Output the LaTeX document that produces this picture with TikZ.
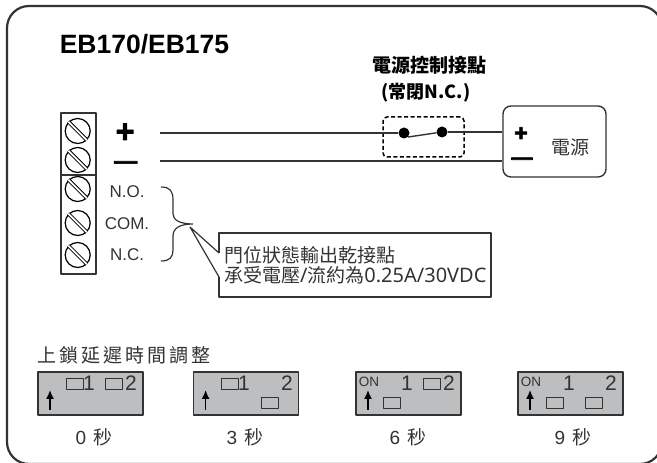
\documentclass[tikz,border=0pt]{standalone}
\usepackage{fontspec}
\usetikzlibrary{arrows.meta}
\setmainfont{Noto Sans CJK TC}
\newfontfamily\arialfont{Liberation Sans}
\newfontfamily\notofont{Noto Sans}
\newfontfamily\symbolfont[UprightFont=* Bold,FakeBold=3]{Liberation Sans}
\newfontfamily\spacedfont[LetterSpace=16]{Noto Sans CJK TC}
\definecolor{dipgray}{rgb}{0.737,0.745,0.753}
\definecolor{inkgray}{rgb}{0.2,0.2,0.2}
\tikzset{
  screw/.style={draw,circle,inner sep=0pt,minimum size=25bp,line width=1.2bp},
  slot/.style={double,double distance=1.8bp,line width=0.9bp},
  terminal/.style={draw=inkgray,inner sep=0pt,minimum width=35bp,line width=1.4bp},
  wire/.style={draw=inkgray,line width=1.4bp},
  contact/.style={circle,fill=black,inner sep=0pt,minimum size=11bp},
  plain/.style={inner sep=0pt,text=inkgray,font=\fontsize{19bp}{25bp}\selectfont},
  portlabel/.style={inner sep=0pt,text=inkgray,font=\arialfont\fontsize{17bp}{18bp}\selectfont},
  heavy/.style={inner sep=0pt,font=\arialfont\bfseries\fontsize{#1}{#1}\selectfont},
  sign/.style={inner sep=0pt,font=\symbolfont\fontsize{#1}{#1}\selectfont},
  dipbox/.style={draw=inkgray,fill=dipgray,line width=1.3bp,inner sep=0pt,minimum width=105bp,minimum height=43bp},
  dipslot/.style={draw=inkgray,line width=1bp,inner sep=0pt,minimum width=17bp,minimum height=10.5bp},
  dipnum/.style={inner sep=0pt,text=inkgray,font=\arialfont\fontsize{21bp}{21bp}\selectfont},
  dipon/.style={inner sep=0pt,text=inkgray,font=\arialfont\fontsize{13.5bp}{14bp}\selectfont},
  dipup/.style={-{Latex[width=8bp,length=9bp]},line width=1.5bp},
  seconds/.style={inner sep=0pt,text=inkgray,font=\fontsize{19bp}{19bp}\selectfont},
}
\begin{document}
\begin{tikzpicture}[>=latex,line join=bevel,]
  \useasboundingbox (0bp,0bp) rectangle (657bp,463bp);
  % Node: frame
  \draw [inkgray,line width=2.2bp,rounded corners=22bp] (7bp,-1bp) rectangle (662bp,457bp);
  \node [heavy=26.5bp] (title) at (144.5bp,418.5bp) {EB170/EB175};
  % Node: terminals
  \node [terminal,minimum height=62bp] (upper) at (78.5bp,319bp) {};
  \node [terminal,minimum height=99bp] (lower) at (78.5bp,238.5bp) {};
  \node [screw] (s1) at (77.7bp,332bp) {};
  \node [screw] (s2) at (77.7bp,303bp) {};
  \node [screw] (s3) at (77.7bp,274bp) {};
  \node [screw] (s4) at (77.7bp,240bp) {};
  \node [screw] (s5) at (77.7bp,208bp) {};
  \draw [slot] (s1.north west) -- (s1.south east);
  \draw [slot] (s2.north west) -- (s2.south east);
  \draw [slot] (s3.north west) -- (s3.south east);
  \draw [slot] (s4.north west) -- (s4.south east);
  \draw [slot] (s5.north west) -- (s5.south east);
  \node [sign=32bp] (plus) at (125bp,330bp) {+};
  \node [sign=23bp] (minus) at (125.7bp,298bp) {—};
  \node [portlabel] (no) at (127bp,271bp) {N.O.};
  \node [portlabel] (com) at (127bp,239bp) {COM.};
  \node [portlabel] (nc) at (127bp,208bp) {N.C.};
  % Node: power
  \node [draw=inkgray,line width=1.4bp,rounded corners=8bp,inner sep=0pt,minimum width=103bp,minimum height=71bp] (power) at (554.5bp,321.5bp) {};
  \node [sign=23bp] (powerplus) at (521bp,329bp) {+};
  \node [sign=21bp] (powerminus) at (522bp,302bp) {—};
  \node [plain] (powertext) at (570bp,316bp) {電源};
  % Node: switch
  \node [draw=black,dash pattern=on 4bp off 2.5bp,line width=1.5bp,rounded corners=4bp,inner sep=0pt,minimum width=81bp,minimum height=40bp] (switch) at (423.5bp,326bp) {};
  \node [contact] (contacta) at (404bp,330bp) {};
  \node [contact] (contactb) at (442bp,331bp) {};
  \node [inner sep=0pt,font=\bfseries\fontsize{19bp}{19bp}\selectfont] (switchname) at (429bp,398bp) {電源控制接點};
  \node [inner sep=0pt,font=\bfseries\fontsize{18bp}{18bp}\selectfont] (switchnc) at (426bp,370bp) {(常閉N.C.)};
  % Edge: plus -> contacta
  \coordinate (wireplus) at (160bp,330bp);
  \draw [wire] (wireplus) -- (contacta);
  % Edge: contactb -> power
  \draw [wire] (contactb) -- (contactb -| power.west);
  % Edge: contacta -> contactb
  \draw [wire] (contacta.south east) -- (contactb);
  % Edge: minus -> power
  \coordinate (wireminus) at (160bp,302bp);
  \draw [wire] (wireminus) -- (wireminus -| power.west);
  % Edge: brace
  \draw [inkgray,line width=1.2bp] (161bp,276bp) .. controls (170bp,276bp) and (173bp,272bp) .. (173bp,263bp) -- (173bp,249bp) .. controls (173bp,243bp) and (180bp,239bp) .. (193bp,239bp) .. controls (180bp,239bp) and (173bp,235bp) .. (173bp,227bp) -- (173bp,213bp) .. controls (173bp,206bp) and (170bp,202bp) .. (161bp,202bp);
  % Node: note
  \node [draw=inkgray,line width=1.4bp,inner sep=0pt,minimum width=272bp,minimum height=64bp,text width=262bp,align=left,plain] (note) at (355bp,198bp) {門位狀態輸出乾接點\\[-5bp]承受電壓{\notofont\fontsize{20bp}{25bp}\selectfont/}流約為{\notofont\fontsize{20bp}{25bp}\selectfont 0.25A/30VDC}};
  \coordinate (notetip) at (190bp,236bp);
  \coordinate (notea) at (219bp,210bp);
  \coordinate (noteb) at (219bp,186bp);
  \draw [white,line width=2.4bp] (notea) -- (noteb);
  \draw [inkgray,line width=1.2bp] (notea) -- (notetip) -- (noteb);
  % Node: delay
  \node [inner sep=0pt,text=inkgray,font=\spacedfont\fontsize{19bp}{19bp}\selectfont] (delay) at (124bp,108bp) {上鎖延遲時間調整};
  % Node: dip0
  \node [dipbox] (dip0) at (90.5bp,69.5bp) {};
  \node [dipslot] (dip0a) at (74.7bp,79bp) {};
  \node [dipslot] (dip0b) at (114bp,79bp) {};
  \node [dipnum] at (89bp,80bp) {1};
  \node [dipnum] at (131bp,80bp) {2};
  \coordinate (dip0up) at (50bp,53bp);
  \draw [dipup] (dip0up) -- ++(0bp,20bp);
  \node [seconds] (t0) at (94bp,26bp) {{\arialfont 0}\hspace{7bp}秒};
  % Node: dip3
  \node [dipbox] (dip3) at (246bp,69.5bp) {};
  \node [dipslot] (dip3a) at (229.5bp,79bp) {};
  \node [dipslot] (dip3b) at (269.5bp,60bp) {};
  \node [dipnum] at (244bp,80bp) {1};
  \node [dipnum] at (287bp,80bp) {2};
  \coordinate (dip3up) at (205.6bp,53bp);
  \draw [dipup] (dip3up) -- ++(0bp,20bp);
  \node [seconds] (t3) at (245bp,26bp) {{\arialfont 3}\hspace{7bp}秒};
  % Node: dip6
  \node [dipbox] (dip6) at (408.5bp,69.5bp) {};
  \node [dipslot] (dip6a) at (392bp,60bp) {};
  \node [dipslot] (dip6b) at (432bp,79bp) {};
  \node [dipon] at (369bp,81bp) {ON};
  \node [dipnum] at (407bp,80bp) {1};
  \node [dipnum] at (449bp,80bp) {2};
  \coordinate (dip6up) at (368bp,53bp);
  \draw [dipup] (dip6up) -- ++(0bp,20bp);
  \node [seconds] (t6) at (408bp,26bp) {{\arialfont 6}\hspace{7bp}秒};
  % Node: dip9
  \node [dipbox] (dip9) at (570.5bp,69.5bp) {};
  \node [dipslot] (dip9a) at (554.5bp,60bp) {};
  \node [dipslot] (dip9b) at (594bp,60bp) {};
  \node [dipon] at (531bp,81bp) {ON};
  \node [dipnum] at (569bp,80bp) {1};
  \node [dipnum] at (611bp,80bp) {2};
  \coordinate (dip9up) at (530bp,53bp);
  \draw [dipup] (dip9up) -- ++(0bp,20bp);
  \node [seconds] (t9) at (573bp,26bp) {{\arialfont 9}\hspace{7bp}秒};
%
\end{tikzpicture}
\end{document}
